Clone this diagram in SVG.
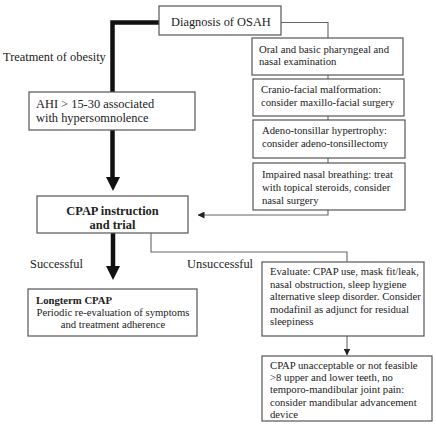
<svg xmlns="http://www.w3.org/2000/svg" width="436" height="426" viewBox="0 0 436 426" font-family="'Liberation Serif', 'DejaVu Serif', serif">
<style>
.box{fill:#fff;stroke:#555;stroke-width:1.2}
.t{font-family:'Liberation Serif','DejaVu Serif',serif;fill:#222}
.s{font-size:10.7px}
.m{font-size:12.4px}
.b{font-weight:bold}
.thin{fill:none;stroke:#666;stroke-width:1.1}
.thick{fill:none;stroke:#111;stroke-width:4.5}
</style>
<defs>
<marker id="small" markerWidth="7" markerHeight="7" refX="6.5" refY="3.5" orient="auto" markerUnits="userSpaceOnUse" viewBox="0 0 7 7">
<path d="M0,0 L7,3.5 L0,7 Z" fill="#222"/>
</marker>
</defs>
<rect width="436" height="426" fill="#fff"/>
<g id="connectors">
<polyline class="thick" points="159,22.5 112.5,22.5 112.5,178"/>
<path d="M106,177 L120,177 L113,191 Z" fill="#111"/>
<line class="thick" x1="113" y1="233" x2="113" y2="267"/>
<path d="M106,266 L120,266 L113,280 Z" fill="#111"/>
<polyline class="thin" points="281,22.5 328,22.5 328,38"/>
<line class="thin" x1="328" y1="75" x2="328" y2="79"/>
<line class="thin" x1="328" y1="116" x2="328" y2="120"/>
<line class="thin" x1="328" y1="158" x2="328" y2="163"/>
<polyline class="thin" points="328,210 328,215 198,215" marker-end="url(#small)"/>
<polyline class="thin" points="151,233 151,252 347,252 347,262"/>
<line class="thin" x1="347" y1="336" x2="347" y2="355" marker-end="url(#small)"/>
</g>
<g id="diagnosis">
<rect class="box" x="159" y="6" width="122" height="29"/>
<text class="t m" x="171" y="25.5">Diagnosis of OSAH</text>
</g>
<g id="obesity-label">
<text class="t m" x="3" y="61">Treatment of obesity</text>
</g>
<g id="ahi">
<rect class="box" x="29" y="92" width="166" height="38"/>
<text class="t m" x="36" y="108">AHI &gt; 15-30 associated</text>
<text class="t m" x="36" y="122">with hypersomnolence</text>
</g>
<g id="oral">
<rect class="box" x="252" y="38" width="151" height="37"/>
<text class="t s" x="259" y="53">Oral and basic pharyngeal and</text>
<text class="t s" x="259" y="65">nasal examination</text>
</g>
<g id="cranio">
<rect class="box" x="253" y="79" width="151" height="37"/>
<text class="t s" x="261" y="93">Cranio-facial malformation:</text>
<text class="t s" x="261" y="106">consider maxillo-facial surgery</text>
</g>
<g id="adeno">
<rect class="box" x="253" y="120" width="152" height="38"/>
<text class="t s" x="262" y="134">Adeno-tonsillar hypertrophy:</text>
<text class="t s" x="262" y="147">consider adeno-tonsillectomy</text>
</g>
<g id="impaired">
<rect class="box" x="253" y="163" width="152" height="47"/>
<text class="t s" x="262" y="178">Impaired nasal breathing: treat</text>
<text class="t s" x="262" y="191">with topical steroids, consider</text>
<text class="t s" x="262" y="204">nasal surgery</text>
</g>
<g id="cpap">
<rect class="box" x="37" y="196" width="151" height="37"/>
<text class="t m b" x="112.5" y="215" text-anchor="middle">CPAP instruction</text>
<text class="t m b" x="112.5" y="229" text-anchor="middle">and trial</text>
</g>
<g id="labels">
<text class="t m" x="30" y="268">Successful</text>
<text class="t m" x="187" y="268">Unsuccessful</text>
</g>
<g id="longterm">
<rect class="box" x="28" y="289" width="169" height="47"/>
<text class="t s b" x="36" y="304">Longterm CPAP</text>
<text class="t s" x="113" y="316" text-anchor="middle">Periodic re-evaluation of symptoms</text>
<text class="t s" x="113" y="328" text-anchor="middle">and treatment adherence</text>
</g>
<g id="evaluate">
<rect class="box" x="262" y="262" width="162" height="74"/>
<text class="t s" x="270" y="275">Evaluate: CPAP use, mask fit/leak,</text>
<text class="t s" x="270" y="288">nasal obstruction, sleep hygiene</text>
<text class="t s" x="270" y="300">alternative sleep disorder. Consider</text>
<text class="t s" x="270" y="313">modafinil as adjunct for residual</text>
<text class="t s" x="270" y="325">sleepiness</text>
</g>
<g id="mandibular">
<rect class="box" x="262" y="356" width="170" height="65"/>
<text class="t s" x="270" y="369">CPAP unacceptable or not feasible</text>
<text class="t s" x="270" y="381">&gt;8 upper and lower teeth, no</text>
<text class="t s" x="270" y="393">temporo-mandibular joint pain:</text>
<text class="t s" x="270" y="406">consider mandibular advancement</text>
<text class="t s" x="270" y="418">device</text>
</g>
</svg>
